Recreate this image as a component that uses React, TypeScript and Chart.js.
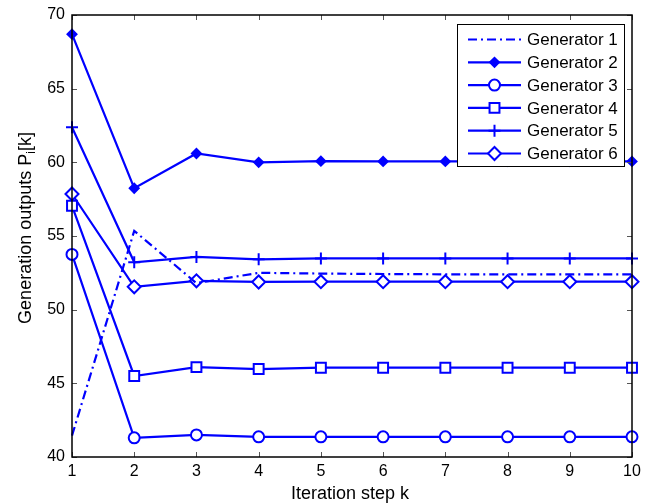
import React, { useEffect, useRef } from "react";
import { Chart, registerables } from "chart.js";

Chart.register(...registerables);

const steps = [1, 2, 3, 4, 5, 6, 7, 8, 9, 10];
const gen1 = [41.45, 55.35, 51.8, 52.5, 52.45, 52.42, 52.4, 52.4, 52.4, 52.4];
const gen2 = [68.7, 58.24, 60.6, 60.0, 60.08, 60.06, 60.06, 60.06, 60.06, 60.06];
const gen3 = [53.75, 41.3, 41.5, 41.37, 41.37, 41.37, 41.37, 41.37, 41.37, 41.37];
const gen4 = [57.05, 45.5, 46.1, 45.97, 46.06, 46.06, 46.06, 46.06, 46.06, 46.06];
const gen5 = [62.38, 53.22, 53.58, 53.42, 53.48, 53.48, 53.48, 53.48, 53.48, 53.48];
const gen6 = [57.85, 51.55, 51.96, 51.88, 51.9, 51.9, 51.9, 51.9, 51.9, 51.9];
const labels = ["Generator 1", "Generator 2", "Generator 3", "Generator 4", "Generator 5", "Generator 6"];
const yTicks = [40, 45, 50, 55, 60, 65, 70];

const BLUE = "#0000ff";
const FONT = "'Liberation Sans', Arial, Helvetica, sans-serif";

function marker(ctx: CanvasRenderingContext2D, style: string, r: number, x: number, y: number) {
  ctx.beginPath();
  if (style === "circle") {
    ctx.arc(x, y, r, 0, Math.PI * 2);
    ctx.fill();
    ctx.stroke();
  } else if (style === "rect") {
    const s = r * Math.SQRT1_2;
    ctx.rect(x - s, y - s, 2 * s, 2 * s);
    ctx.fill();
    ctx.stroke();
  } else if (style === "rectRot") {
    ctx.moveTo(x - r, y);
    ctx.lineTo(x, y - r);
    ctx.lineTo(x + r, y);
    ctx.lineTo(x, y + r);
    ctx.closePath();
    ctx.fill();
    ctx.stroke();
  } else if (style === "cross") {
    ctx.moveTo(x, y - r);
    ctx.lineTo(x, y + r);
    ctx.moveTo(x - r, y);
    ctx.lineTo(x + r, y);
    ctx.stroke();
  }
}

const framePlugin = {
  id: "frame",
  afterDatasetsDraw(chart: any) {
    const { ctx, chartArea: a, scales } = chart;
    const x = scales.x, y = scales.y;
    ctx.save();
    ctx.lineWidth = 1;
    const tl = 5;
    ctx.beginPath();
    for (const s of steps) {
      const px = Math.round(x.getPixelForValue(s)) + 0.5;
      ctx.moveTo(px, a.bottom);
      ctx.lineTo(px, a.bottom - tl);
      ctx.moveTo(px, a.top);
      ctx.lineTo(px, a.top + tl);
    }
    for (const v of yTicks) {
      const py = Math.round(y.getPixelForValue(v)) + 0.5;
      ctx.moveTo(a.left, py);
      ctx.lineTo(a.left + tl, py);
      ctx.moveTo(a.right, py);
      ctx.lineTo(a.right - tl, py);
    }
    ctx.strokeStyle = "#555";
    ctx.stroke();
    ctx.strokeStyle = "#000";
    ctx.lineWidth = 1.5;
    ctx.strokeRect(a.left, a.top, a.right - a.left, a.bottom - a.top);

    // legend
    const lx = 457, ly = 24, lw = 167, lh = 142;
    ctx.fillStyle = "#fff";
    ctx.fillRect(lx, ly, lw, lh);
    ctx.lineWidth = 1;
    ctx.strokeStyle = "#000";
    ctx.strokeRect(lx + 0.5, ly + 0.5, lw, lh);
    ctx.font = `17px ${FONT}`;
    ctx.textBaseline = "middle";
    ctx.textAlign = "left";
    chart.data.datasets.forEach((ds: any, i: number) => {
      const cy = 39.5 + i * 22.8;
      ctx.save();
      ctx.strokeStyle = ds.borderColor;
      ctx.lineWidth = ds.borderWidth;
      ctx.setLineDash(ds.borderDash || []);
      ctx.beginPath();
      ctx.moveTo(468, cy);
      ctx.lineTo(521, cy);
      ctx.stroke();
      ctx.restore();
      if (ds.pointStyle && ds.pointRadius > 0) {
        ctx.save();
        ctx.strokeStyle = ds.pointBorderColor;
        ctx.fillStyle = ds.pointBackgroundColor;
        ctx.lineWidth = ds.pointBorderWidth;
        marker(ctx, ds.pointStyle, ds.pointRadius, 494.5, cy);
        ctx.restore();
      }
      ctx.fillStyle = "#000";
      ctx.fillText(ds.label, 527, cy + 1);
    });

    // axis titles
    ctx.fillStyle = "#000";
    ctx.font = `18px ${FONT}`;
    ctx.textAlign = "center";
    ctx.textBaseline = "alphabetic";
    ctx.fillText("Iteration step k", 350, 499);

    ctx.save();
    ctx.translate(31, 228);
    ctx.rotate(-Math.PI / 2);
    const t1 = "Generation outputs P";
    const t2 = "i";
    const t3 = "[k]";
    ctx.font = `18px ${FONT}`;
    const w1 = ctx.measureText(t1).width;
    const w3 = ctx.measureText(t3).width;
    ctx.font = `12px ${FONT}`;
    const w2 = ctx.measureText(t2).width;
    const total = w1 + w2 + w3;
    let sx = -total / 2;
    ctx.textAlign = "left";
    ctx.font = `18px ${FONT}`;
    ctx.fillText(t1, sx, 0);
    sx += w1;
    ctx.font = `12px ${FONT}`;
    ctx.fillText(t2, sx, 4);
    sx += w2;
    ctx.font = `18px ${FONT}`;
    ctx.fillText(t3, sx, 0);
    ctx.restore();
    ctx.restore();
  },
};

function mk(label: string, data: number[], style: any, radius: number, fill: string, dash?: number[]) {
  return {
    label,
    data: steps.map((s, i) => ({ x: s, y: data[i] })),
    borderColor: BLUE,
    borderWidth: 2.2,
    borderDash: dash,
    pointStyle: style,
    pointRadius: radius,
    pointBorderColor: BLUE,
    pointBackgroundColor: fill,
    pointBorderWidth: 2,
    pointHoverRadius: radius,
    tension: 0,
    clip: false,
  };
}

export default function App() {
  const ref = useRef<HTMLCanvasElement>(null);
  useEffect(() => {
    document.body.style.margin = "0";
    const chart = new Chart(ref.current!, {
      type: "line",
      data: {
        datasets: [
          mk(labels[0], gen1, false, 0, BLUE, [9, 4, 2, 4]),
          mk(labels[1], gen2, "rectRot", 4.5, BLUE),
          mk(labels[2], gen3, "circle", 5.5, "#fff"),
          mk(labels[3], gen4, "rect", 7, "#fff"),
          mk(labels[4], gen5, "cross", 6, BLUE),
          mk(labels[5], gen6, "rectRot", 6.5, "#fff"),
        ],
      },
      options: {
        responsive: false,
        animation: false,
        events: [],
        layout: { padding: { top: 15, right: 17, left: 0, bottom: 0 } },
        plugins: { legend: { display: false }, tooltip: { enabled: false } },
        scales: {
          x: {
            type: "linear",
            min: 1,
            max: 10,
            afterFit: (s: any) => { s.height = 47; s.paddingLeft = 0; s.paddingRight = 0; },
            grid: { display: false, drawTicks: false },
            border: { display: false },
            ticks: { stepSize: 1, color: "#000", padding: 5, font: { size: 16, family: FONT } },
          },
          y: {
            min: 40,
            max: 70,
            afterFit: (s: any) => { s.width = 72; s.paddingTop = 0; s.paddingBottom = 0; },
            grid: { display: false, drawTicks: false },
            border: { display: false },
            ticks: { stepSize: 5, color: "#000", padding: 7, font: { size: 16, family: FONT } },
          },
        },
      },
      plugins: [framePlugin],
    });
    return () => chart.destroy();
  }, []);
  return (
    <div style={{ position: "absolute", left: 0, top: 0, width: 649, height: 504, background: "#fff" }}>
      <canvas ref={ref} width={649} height={504} />
    </div>
  );
}
